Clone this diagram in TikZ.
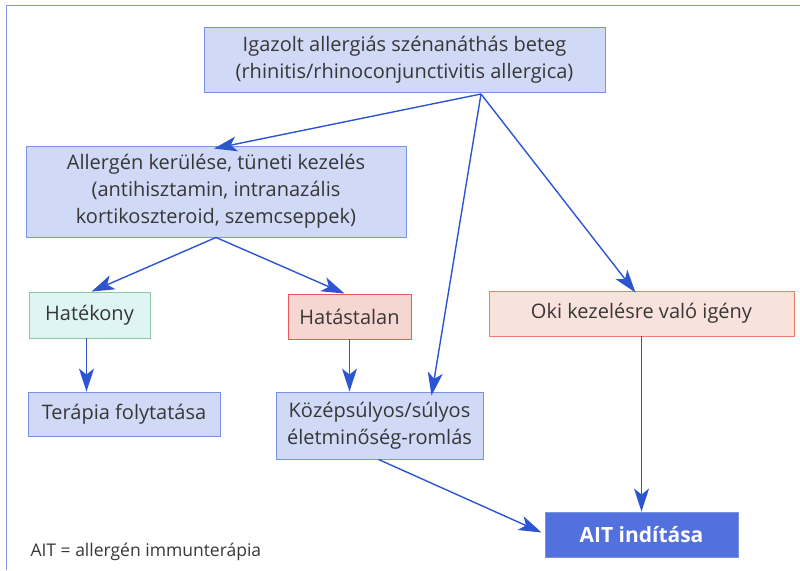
\documentclass[tikz,border=0pt]{standalone}
\usepackage{fontspec}
\setmainfont{Open Sans}
\usetikzlibrary{arrows.meta,calc,positioning}
\definecolor{frameColor}{RGB}{130,155,220}
\definecolor{blueFill}{RGB}{208,218,246}
\definecolor{blueDraw}{RGB}{120,148,222}
\definecolor{greenFill}{RGB}{222,245,244}
\definecolor{greenDraw}{RGB}{140,200,165}
\definecolor{redFill}{RGB}{246,214,208}
\definecolor{redDraw}{RGB}{228,92,92}
\definecolor{pinkFill}{RGB}{250,226,220}
\definecolor{pinkDraw}{RGB}{236,122,112}
\definecolor{aitFill}{RGB}{82,112,222}
\definecolor{arrowColor}{RGB}{45,85,210}
\definecolor{textColor}{RGB}{55,55,55}
\tikzset{step box/.style={fill=blueFill, draw=blueDraw, line width=.9pt, align=center, inner sep=0pt, font=\fontsize{20}{27}\selectfont, text=textColor}}
\tikzset{good box/.style={step box, fill=greenFill, draw=greenDraw}}
\tikzset{bad box/.style={step box, fill=redFill, draw=redDraw}}
\tikzset{wish box/.style={step box, fill=pinkFill, draw=pinkDraw}}
\tikzset{ait box/.style={step box, fill=aitFill, draw=blueDraw, text=white, font=\fontsize{21}{27}\selectfont\bfseries}}
\tikzset{flow/.style={draw=arrowColor, line width=1.4pt, -{Stealth[length=23pt,width=15pt,inset=6pt]}}}

\begin{document}
\begin{tikzpicture}[x=1pt,y=-1pt]
\useasboundingbox (0,0) rectangle (800,570);
\draw[frameColor, line width=1pt] (6,570) -- (6,5) -- (800,5);

% Nodes
\node (Patient) [step box, minimum width=401pt, minimum height=65pt] at (404.5,59.5) {Igazolt allergiás szénanáthás beteg\\ (rhinitis/rhinoconjunctivitis allergica)};
\node (Avoidance) [step box, minimum width=380pt, minimum height=91pt] at (216,191.5) {Allergén kerülése, tüneti kezelés\\ (antihisztamin, intranazális\\ kortikoszteroid, szemcseppek)};

\node (Effective) [good box, minimum width=121pt, minimum height=46pt] at (89.5,315) {Hatékony};
\node (Ineffective) [bad box, minimum width=123pt, minimum height=45pt] at (349.5,316.5) {Hatástalan};
\node (CauseWish) [wish box, minimum width=305pt, minimum height=45pt] at (641.5,313.5) {Oki kezelésre való igény};

\node (Continue) [step box, minimum width=192pt, minimum height=44pt] at (124,414) {Terápia folytatása};
\node (Quality) [step box, minimum width=207pt, minimum height=67pt] at (379.5,425.5) {Középsúlyos/súlyos\\ életminőség-romlás};
\node (StartAIT) [ait box, minimum width=193pt, minimum height=45pt] at (641.5,534.5) {AIT indítása};

\node (Legend) [anchor=west, text=textColor, font=\fontsize{17.5}{20}\selectfont] at (27,552) {AIT = allergén immunterápia};

\coordinate (Split) at (481,94);

% Connectors
\begin{scope}[flow]
\draw (Split) -- ([xshift=-2pt,yshift=-3pt]Avoidance.north);
\draw (Split) -- ([xshift=52pt,yshift=-4pt]Quality.north);
\draw (Split) -- ([xshift=-6pt,yshift=-2pt]CauseWish.north);

\draw (Avoidance.south) -- ([xshift=2pt]Effective.north);
\draw (Avoidance.south) -- ([xshift=-5pt]Ineffective.north);

\draw ([xshift=-3pt]Effective.south) -- ([xshift=-3pt]Effective.south |- Continue.north);
\draw (Ineffective.south) -- (Ineffective.south |- Quality.north);
\draw (CauseWish.south) -- (StartAIT.north);
\draw ([xshift=-1pt]Quality.south) -- ([xshift=-3pt,yshift=2pt]StartAIT.west);
\end{scope}

\end{tikzpicture}
\end{document}
